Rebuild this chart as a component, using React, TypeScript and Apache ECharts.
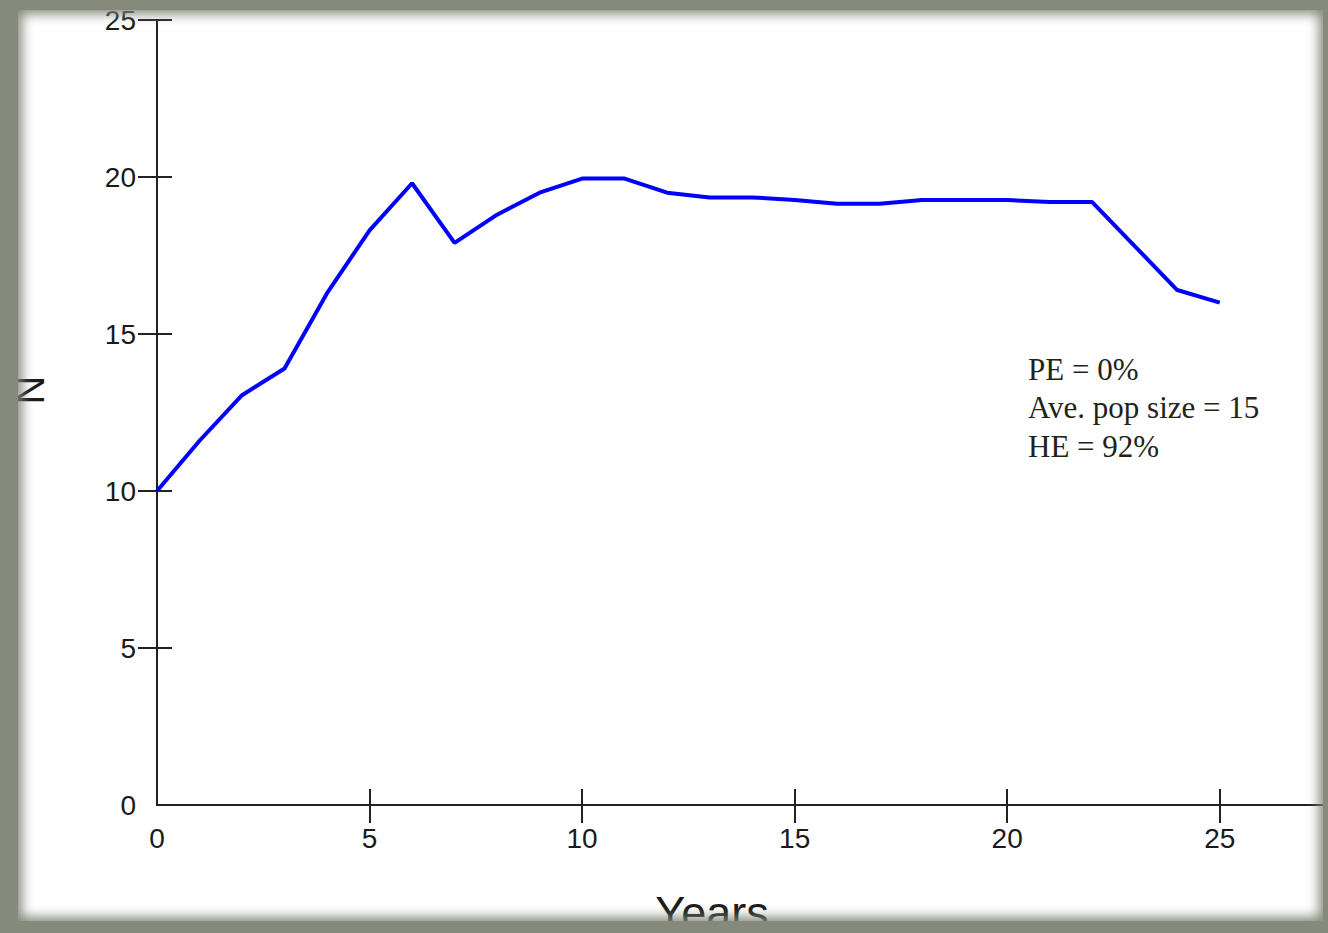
import React, { useEffect, useRef } from "react";
import * as echarts from "echarts";

const years = [0, 1, 2, 3, 4, 5, 6, 7, 8, 9, 10, 11, 12, 13, 14, 15, 16, 17, 18, 19, 20, 21, 22, 23, 24, 25];
const population = [10, 11.6, 13.05, 13.9, 16.3, 18.3, 19.8, 17.9, 18.8, 19.5, 19.95, 19.95, 19.5, 19.35, 19.35, 19.27, 19.15, 19.15, 19.27, 19.27, 19.27, 19.2, 19.2, 17.8, 16.4, 16.0];
const xLabelValues = [0, 5, 10, 15, 20, 25];
const xTickValues = [5, 10, 15, 20, 25];
const yLabelValues = [0, 5, 10, 15, 20, 25];
const yTickValues = [5, 10, 15, 20, 25];
const annotationLines = ["PE = 0%", "Ave. pop size = 15", "HE = 92%"];
const xTitle = "Years";
const yTitle = "N";

const AXIS = "#222222";
const LABEL = "#1a1a1a";
const FRAME = "#858a7c";

export default function App() {
  const ref = useRef<HTMLDivElement>(null);

  useEffect(() => {
    if (!ref.current) return;
    const chart = echarts.init(ref.current, null, { renderer: "svg" });
    const labelStyle = { fontFamily: "Liberation Sans, Arial, sans-serif", fontSize: 28, color: LABEL };
    chart.setOption({
      animation: false,
      backgroundColor: "#ffffff",
      grid: { left: 157, right: 2, top: 20, bottom: 128, containLabel: false },
      xAxis: [
        {
          type: "value", min: 0, max: 27.5, interval: 5, position: "bottom",
          axisLine: { show: true, onZero: false, lineStyle: { color: AXIS, width: 2 } },
          axisTick: { show: true, inside: false, length: 18, customValues: xTickValues, lineStyle: { color: AXIS, width: 2 } },
          axisLabel: { ...labelStyle, margin: 19, customValues: xLabelValues },
          splitLine: { show: false },
        },
        {
          type: "value", min: 0, max: 27.5, interval: 5, position: "bottom",
          axisLine: { show: false },
          axisTick: { show: true, inside: true, length: 16, customValues: xTickValues, lineStyle: { color: AXIS, width: 2 } },
          axisLabel: { show: false },
          splitLine: { show: false },
        },
      ],
      yAxis: [
        {
          type: "value", min: 0, max: 25, interval: 5, position: "left",
          axisLine: { show: true, onZero: false, lineStyle: { color: AXIS, width: 2 } },
          axisTick: { show: true, inside: false, length: 19, customValues: yTickValues, lineStyle: { color: AXIS, width: 2 } },
          axisLabel: { ...labelStyle, margin: 21, customValues: yLabelValues },
          splitLine: { show: false },
        },
        {
          type: "value", min: 0, max: 25, interval: 5, position: "left",
          axisLine: { show: false },
          axisTick: { show: true, inside: true, length: 15, customValues: yTickValues, lineStyle: { color: AXIS, width: 2 } },
          axisLabel: { show: false },
          splitLine: { show: false },
        },
      ],
      series: [
        {
          type: "line",
          xAxisIndex: 0,
          yAxisIndex: 0,
          data: years.map((y, i) => [y, population[i]]),
          symbol: "none",
          showSymbol: false,
          lineStyle: { color: "#0000ff", width: 4 },
          z: 5,
        },
      ],
      graphic: [
        {
          type: "text", x: 30, y: 390, rotation: Math.PI / 2,
          style: { text: yTitle, fontFamily: "Liberation Sans, Arial, sans-serif", fontSize: 40, fill: "#1a1a1a", align: "center", verticalAlign: "middle" },
        },
        {
          type: "text", x: 712, y: 912,
          style: { text: xTitle, fontFamily: "Liberation Sans, Arial, sans-serif", fontSize: 45, fill: "#1a1a1a", align: "center", verticalAlign: "middle" },
        },
        {
          type: "text", x: 1028, y: 350,
          style: { text: annotationLines.join("\n"), fontFamily: "Liberation Serif, Times New Roman, serif", fontSize: 31, lineHeight: 38.5, fill: "#1f2318", align: "left", verticalAlign: "top" },
        },
      ],
    });
    return () => chart.dispose();
  }, []);

  return (
    <div style={{ position: "absolute", left: 0, top: 0, width: 1328, height: 933, overflow: "hidden", background: "#fff" }}>
      <div ref={ref} style={{ position: "absolute", left: 0, top: 0, width: 1328, height: 933 }} />
      <div
        style={{
          position: "absolute", left: 0, top: 0, width: 1328, height: 933, boxSizing: "border-box",
          borderStyle: "solid", borderColor: FRAME,
          borderTopWidth: 10, borderLeftWidth: 18, borderRightWidth: 5, borderBottomWidth: 12,
          boxShadow: `inset 0 0 12px 4px ${FRAME}`, pointerEvents: "none",
        }}
      />
    </div>
  );
}
